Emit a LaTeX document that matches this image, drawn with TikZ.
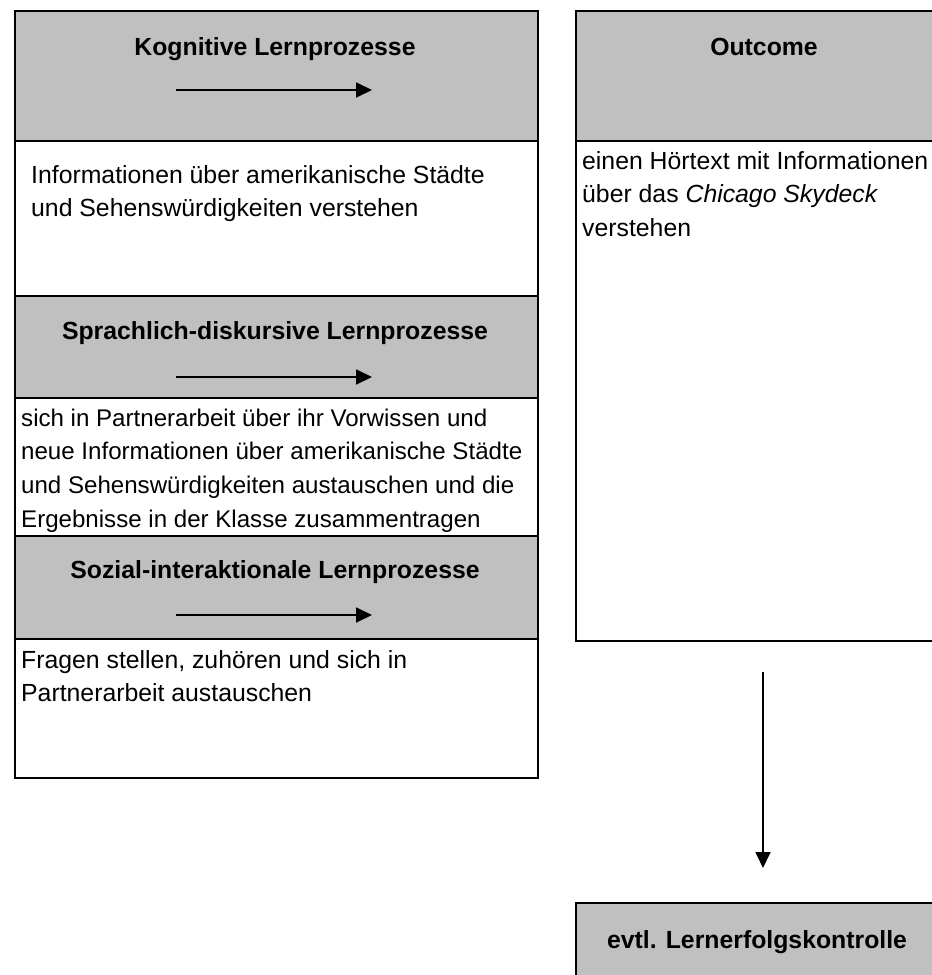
\documentclass[tikz,border=0pt]{standalone}
\usepackage{fontspec}
\setmainfont{Liberation Sans}
\usepackage{xcolor}
\usetikzlibrary{arrows.meta}
\definecolor{kopfgrau}{RGB}{192,192,192}

\tikzset{
  kopf/.style={draw,line width=2.2pt,fill=kopfgrau,rectangle,anchor=north west,inner sep=0pt},
  feld/.style={draw,line width=2.2pt,fill=white,rectangle,anchor=north west,inner sep=0pt},
  titel/.style={anchor=base,inner sep=0pt,font=\fontsize{24.8}{33.8}\selectfont\bfseries},
  inhalt/.style={anchor=base west,inner sep=0pt,font=\fontsize{24.8}{33.8}\selectfont},
  pfeil/.style={line width=1.8pt,-{Triangle[length=16pt,width=15pt]}}
}
\newcommand{\zeilen}[1]{\parbox[t]{700pt}{\raggedright #1}}

\begin{document}
\begin{tikzpicture}[x=1pt,y=-1pt]
		\def\li{14}
		\def\bl{523}
		\def\re{575}
		\def\br{365}
		\useasboundingbox (0,0) rectangle (932,975);
		\clip (0,0) rectangle (932,975);
		% linke Spalte
		\node[kopf,minimum width=\bl pt,minimum height=130pt] (kogKopf) at (\li,10) {};
		\node[feld,minimum width=\bl pt,minimum height=155pt] (kogFeld) at (\li,140) {};
		\node[kopf,minimum width=\bl pt,minimum height=102pt] (sprKopf) at (\li,295) {};
		\node[feld,minimum width=\bl pt,minimum height=138pt] (sprFeld) at (\li,397) {};
		\node[kopf,minimum width=\bl pt,minimum height=103pt] (sozKopf) at (\li,535) {};
		\node[feld,minimum width=\bl pt,minimum height=139pt] (sozFeld) at (\li,638) {};
		% rechte Spalte
		\node[kopf,minimum width=\br pt,minimum height=130pt] (outKopf) at (\re,10) {};
		\node[feld,minimum width=\br pt,minimum height=500pt] (outFeld) at (\re,140) {};
		\node[kopf,minimum width=\br pt,minimum height=100pt] (evtlKopf) at (\re,902) {};
%
		\node[titel] (kogTitel) at (275,55) {Kognitive Lernprozesse};
		\node[titel] (sprTitel) at (275,339) {Sprachlich-diskursive Lernprozesse};
		\node[titel] (sozTitel) at (275,578) {Sozial-interaktionale Lernprozesse};
		\node[titel] (outTitel) at (764,55) {Outcome};
		\node[titel] (evtlTitel) at (757,948) {evtl. Lernerfolgskontrolle};
%
		\node[inhalt] (kogText) at (31,183) {\zeilen{Informationen über amerikanische Städte\\
		  und Sehenswürdigkeiten verstehen}};
		\node[inhalt,font=\fontsize{24.1}{33.8}\selectfont] (sprText) at (21,426) {\zeilen{sich in Partnerarbeit über ihr Vorwissen und\\
		  neue Informationen über amerikanische Städte\\
		  und Sehenswürdigkeiten austauschen und die\\
		  Ergebnisse in der Klasse zusammentragen}};
		\node[inhalt] (sozText) at (21,668) {\zeilen{Fragen stellen, zuhören und sich in\\
		  Partnerarbeit austauschen}};
		\node[inhalt] (outText) at (582,169) {\zeilen{einen Hörtext mit Informationen\\
		  über das \textit{Chicago Skydeck}\\
		  verstehen}};
%
		\foreach \n/\y in {kog/90,spr/377,soz/615}{
		  \coordinate (\n A) at (176,\y);
		  \coordinate (\n B) at (372,\y);
		  \draw[pfeil] (\n A) -- (\n B);
		}
		\coordinate (outA) at (763,672);
		\coordinate (evtlA) at (763,868);
		\draw[pfeil] (outA) -- (evtlA);
\end{tikzpicture}
\end{document}
